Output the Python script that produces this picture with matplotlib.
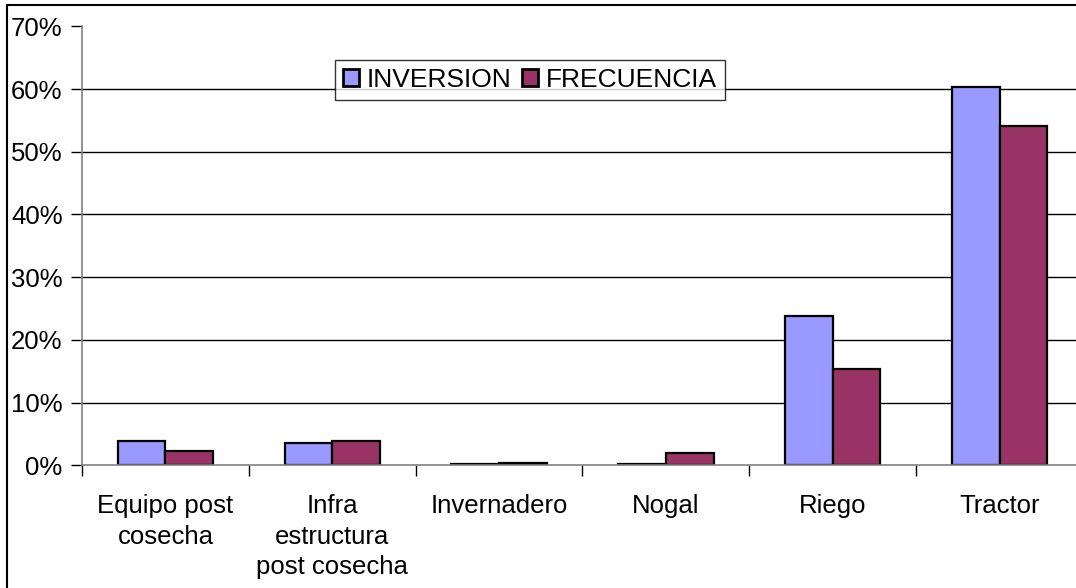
import matplotlib
matplotlib.use("Agg")
import matplotlib.pyplot as plt
from matplotlib.patches import Rectangle
import numpy as np

categories = ["Equipo post\ncosecha", "Infra\nestructura\npost cosecha", "Invernadero", "Nogal", "Riego", "Tractor"]
inversion = [3.9, 3.6, 0.15, 0.2, 23.8, 60.4]
frecuencia = [2.3, 3.8, 0.4, 2.0, 15.4, 54.1]
yticks = [0, 10, 20, 30, 40, 50, 60, 70]
ytick_labels = ["0%", "10%", "20%", "30%", "40%", "50%", "60%", "70%"]

plt.rcParams['font.family'] = ['Liberation Sans', 'DejaVu Sans']
FS = 18.5

W, H = 1076, 588
fig = plt.figure(figsize=(W / 100, H / 100), dpi=100)
fig.patch.set_facecolor("white")

# outer chart border
fig.patches.append(Rectangle((7 / W, -0.05), 1.1, 1 - 5 / H + 0.05, transform=fig.transFigure,
                             fill=False, edgecolor="black", linewidth=1.5, zorder=0))

ax = fig.add_axes([82 / W, 1 - 465.3 / H, (1083 - 82) / W, (465.3 - 26.3) / H])
ax.set_facecolor("none")

x = np.arange(len(categories))
bw = 1 / 3.5
ax.bar(x - bw / 2, inversion, bw, color="#9999FF", edgecolor="black", linewidth=1.6, label="INVERSION", zorder=3)
ax.bar(x + bw / 2, frecuencia, bw, color="#993366", edgecolor="black", linewidth=1.6, label="FRECUENCIA", zorder=3)

ax.set_xlim(-0.5, len(categories) - 0.5)
ax.set_ylim(0, 70)
ax.set_yticks(yticks)
ax.set_yticklabels(ytick_labels, fontsize=FS)
for yv in yticks[1:-1]:
    ax.axhline(yv, color="black", linewidth=1.0, zorder=1)

ax.set_xticks(np.arange(-0.5, len(categories), 1.0))
ax.set_xticklabels([])
ax.set_xticks(x, minor=True)
ax.set_xticklabels(categories, minor=True, fontsize=FS, linespacing=1.32)
ax.tick_params(axis="x", which="minor", length=0, pad=21)
ax.tick_params(axis="x", which="major", length=8, width=1, direction="out")
ax.tick_params(axis="y", length=8, width=1, direction="out", pad=6)

for s in ["top", "right"]:
    ax.spines[s].set_visible(False)
ax.spines["left"].set_color("#808080")
ax.spines["left"].set_linewidth(1.2)
ax.spines["bottom"].set_color("#808080")
ax.spines["bottom"].set_linewidth(1.2)
ax.spines["bottom"].set_zorder(4)

leg = ax.legend(loc="upper left", bbox_to_anchor=((335 - 82) / (1083 - 82), (465.3 - 60) / (465.3 - 26.3)),
                ncol=2, fontsize=19, frameon=True, fancybox=False, borderpad=0.3,
                handlelength=0.6, handleheight=0.6, handletextpad=0.3, columnspacing=0.4,
                borderaxespad=0)
leg.get_frame().set_edgecolor("black")
leg.get_frame().set_linewidth(1.0)
leg.set_zorder(5)
for h in leg.legend_handles:
    h.set_linewidth(2.0)

fig.savefig("out.png", dpi=100, facecolor="white")
